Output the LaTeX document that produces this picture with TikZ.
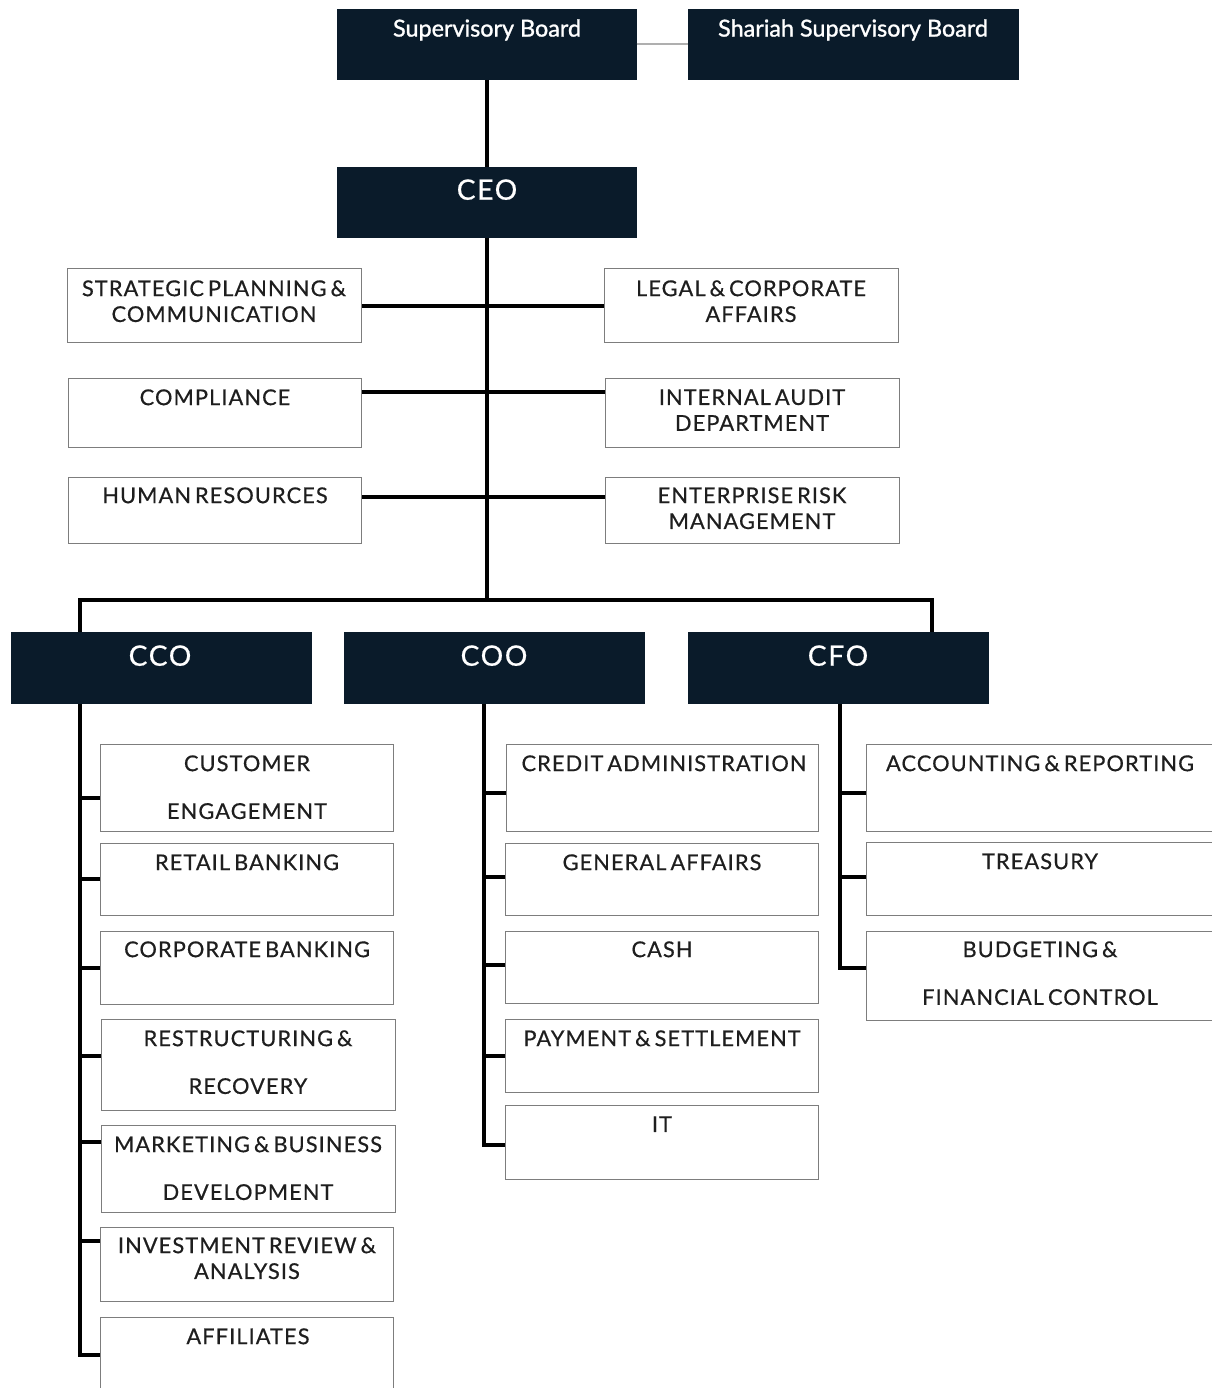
\documentclass[tikz,border=0pt]{standalone}
\usepackage{fontspec}
\setmainfont{Lato}
\newfontfamily\capsf[LetterSpace=5,WordSpace=0.6,FakeBold=0.5]{Lato}
\newfontfamily\headf[LetterSpace=6,FakeBold=0.6]{Lato}
\newfontfamily\boardf[FakeBold=1.2]{Lato}
\usetikzlibrary{calc}
\definecolor{navy}{RGB}{10,27,42}
\definecolor{bgray}{RGB}{125,125,125}
\definecolor{tgray}{RGB}{30,30,30}
\definecolor{lgray}{RGB}{175,175,175}
\newcommand\bx[6]{\node[#6, minimum width={(#4-#2)*0.02cm}, minimum height={(#5-#3)*0.02cm}] (#1) at (#2,#3) {};}
\begin{document}
\begin{tikzpicture}[x=0.02cm,y=-0.02cm,
 conn/.style={line width=2.3pt, black, line join=miter},
 gline/.style={line width=1.1pt, lgray},
 wbox/.style={draw=bgray, line width=0.8pt, fill=white, inner sep=0pt, anchor=north west},
 dbox/.style={draw=navy, fill=navy, inner sep=0pt, anchor=north west},
 lbl/.style={inner sep=0pt, anchor=north, align=center, text=tgray, font=\capsf\fontsize{12.4pt}{14.7pt}\selectfont},
 dlbl/.style={inner sep=0pt, anchor=north, align=center, text=white, font=\boardf\fontsize{13.3pt}{15pt}\selectfont},
 hlbl/.style={inner sep=0pt, anchor=north, text=white, font=\headf\fontsize{16pt}{18pt}\selectfont}]
\useasboundingbox (0,0) rectangle (1212,1388);
\clip (0,0) rectangle (1212,1388);
% top level boxes
\bx{sb}{337}{9}{636}{79}{dbox}
\bx{ssb}{688}{9}{1018}{79}{dbox}
\bx{ceo}{337}{167}{636}{237}{dbox}
% staff units
\bx{spc}{67}{268}{361}{342}{wbox}
\bx{legal}{604}{268}{898}{342}{wbox}
\bx{comp}{68}{378}{361}{447}{wbox}
\bx{ia}{605}{378}{899}{447}{wbox}
\bx{hr}{68}{477}{361}{543}{wbox}
\bx{erm}{605}{477}{899}{543}{wbox}
% chiefs
\bx{cco}{11}{632}{311}{703}{dbox}
\bx{coo}{344}{632}{644}{703}{dbox}
\bx{cfo}{688}{632}{988}{703}{dbox}
% CCO units
\bx{cust}{100}{744}{393}{831}{wbox}
\bx{retail}{100}{843}{393}{915}{wbox}
\bx{corp}{100}{931}{393}{1004}{wbox}
\bx{restr}{101}{1019}{395}{1110}{wbox}
\bx{mkt}{101}{1125}{395}{1212}{wbox}
\bx{inv}{100}{1227}{393}{1301}{wbox}
\bx{aff}{100}{1317}{393}{1400}{wbox}
% COO units
\bx{cred}{506}{744}{818}{831}{wbox}
\bx{gen}{505}{843}{818}{915}{wbox}
\bx{cash}{505}{931}{818}{1003}{wbox}
\bx{pay}{505}{1019}{818}{1092}{wbox}
\bx{it}{505}{1105}{818}{1179}{wbox}
% CFO units
\bx{acc}{866}{744}{1220}{831}{wbox}
\bx{tre}{866}{842}{1220}{915}{wbox}
\bx{bud}{866}{931}{1220}{1020}{wbox}
% labels
\node[dlbl] (sbt) at (487,19) {Supervisory Board};
\node[dlbl] (ssbt) at (853,19) {Shariah Supervisory Board};
\node[hlbl] (ceot) at (487,179) {CEO};
\node[hlbl] (ccot) at (160,645) {CCO};
\node[hlbl] (coot) at (494,645) {COO};
\node[hlbl] (cfot) at (838,645) {CFO};
\node[lbl] (spct) at (214,280) {STRATEGIC PLANNING \&\\COMMUNICATION};
\node[lbl] (legalt) at (751,280) {LEGAL \& CORPORATE\\AFFAIRS};
\node[lbl] (compt) at (215,389) {COMPLIANCE};
\node[lbl] (iat) at (752,389) {INTERNAL AUDIT\\DEPARTMENT};
\node[lbl] (hrt) at (215,487) {HUMAN RESOURCES};
\node[lbl] (ermt) at (752,487) {ENTERPRISE RISK\\MANAGEMENT};
\node[lbl] (custt) at (247,755) {CUSTOMER\\[12.5pt]ENGAGEMENT};
\node[lbl] (retailt) at (247,854) {RETAIL BANKING};
\node[lbl] (corpt) at (247,941) {CORPORATE BANKING};
\node[lbl] (restrt) at (248,1030) {RESTRUCTURING \&\\[12.5pt]RECOVERY};
\node[lbl] (mktt) at (248,1136) {MARKETING \& BUSINESS\\[12.5pt]DEVELOPMENT};
\node[lbl] (invt) at (247,1237) {INVESTMENT REVIEW \&\\ANALYSIS};
\node[lbl] (afft) at (248,1328) {AFFILIATES};
\node[lbl] (credt) at (664,755) {CREDIT ADMINISTRATION};
\node[lbl] (gent) at (662,854) {GENERAL AFFAIRS};
\node[lbl] (casht) at (662,941) {CASH};
\node[lbl] (payt) at (662,1030) {PAYMENT \& SETTLEMENT};
\node[lbl] (itt) at (662,1116) {IT};
\node[lbl] (acct) at (1040,755) {ACCOUNTING \& REPORTING};
\node[lbl] (tret) at (1040,853) {TREASURY};
\node[lbl] (budt) at (1040,941) {BUDGETING \&\\[12.5pt]FINANCIAL CONTROL};
% connectors
\draw[gline] (sb.east) -- (ssb.west);
\draw[conn] (sb.south) -- (ceo.north);
\coordinate (busL) at (80,600);
\coordinate (busR) at (932,600);
\draw[conn] (ceo.south) -- (ceo.south |- busL);
\draw[conn] (busL |- cco.north) -- (busL) -- (busR) -- (busR |- cfo.north);
\draw[conn] (spc.east) -- (legal.west);
\coordinate (s2) at ($(comp.north east)+(0,14)$);
\draw[conn] (s2) -- (s2 -| ia.west);
\coordinate (s3) at ($(hr.north east)+(0,20)$);
\draw[conn] (s3) -- (s3 -| erm.west);
% CCO spine
\coordinate (ccoS) at (busL |- cco.south);
\coordinate (a1) at ($(cust.north west)+(0,54)$);
\coordinate (a2) at ($(retail.north west)+(0,36)$);
\coordinate (a3) at ($(corp.north west)+(0,37)$);
\coordinate (a4) at ($(restr.north west)+(0,37)$);
\coordinate (a5) at ($(mkt.north west)+(0,17)$);
\coordinate (a6) at ($(inv.north west)+(0,14)$);
\coordinate (a7) at ($(aff.north west)+(0,38)$);
\draw[conn] (ccoS) |- (a7);
\foreach \p in {a1,a2,a3,a4,a5,a6} \draw[conn] (\p) -- (\p -| ccoS);
% COO spine
\coordinate (cooS) at ($(coo.south)+(-10,0)$);
\coordinate (b1) at ($(cred.north west)+(0,49)$);
\coordinate (b2) at ($(gen.north west)+(0,34)$);
\coordinate (b3) at ($(cash.north west)+(0,34)$);
\coordinate (b4) at ($(pay.north west)+(0,37)$);
\coordinate (b5) at ($(it.north west)+(0,40)$);
\draw[conn] (cooS) |- (b5);
\foreach \p in {b1,b2,b3,b4} \draw[conn] (\p) -- (\p -| cooS);
% CFO spine
\coordinate (cfoS) at ($(cfo.south)+(2,0)$);
\coordinate (c1) at ($(acc.north west)+(0,49)$);
\coordinate (c2) at ($(tre.north west)+(0,35)$);
\coordinate (c3) at ($(bud.north west)+(0,37)$);
\draw[conn] (cfoS) |- (c3);
\foreach \p in {c1,c2} \draw[conn] (\p) -- (\p -| cfoS);
\end{tikzpicture}
\end{document}
